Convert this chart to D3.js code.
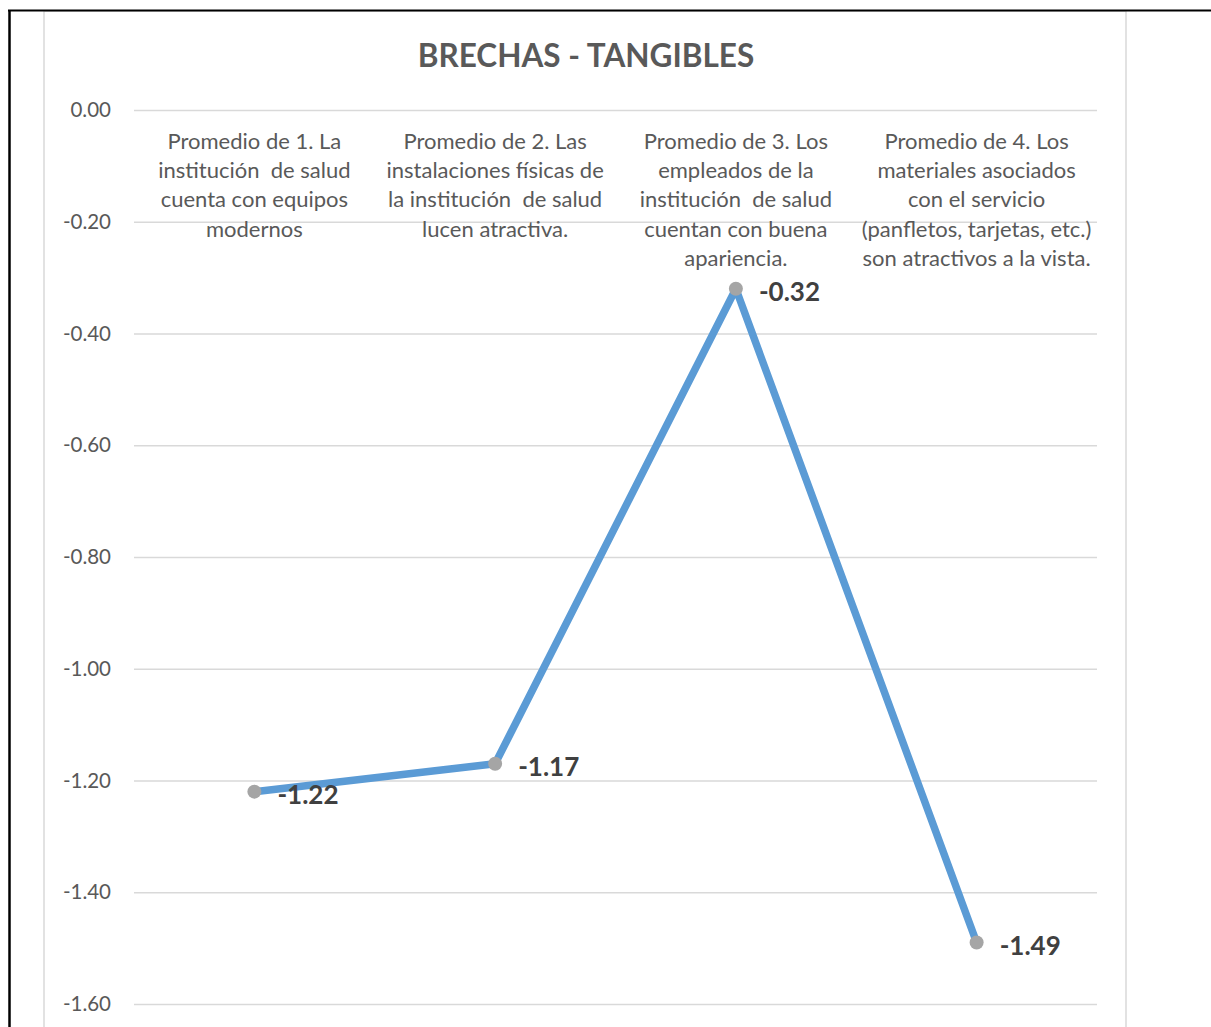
<!DOCTYPE html>
<html>
<head>
<meta charset="utf-8">
<script src="https://cdn.jsdelivr.net/npm/d3@7"></script>
<style>
  html, body { margin: 0; padding: 0; background: #fff; }
  svg { display: block; }
</style>
</head>
<body>
<div id="chart"></div>
<script>
const WIDTH = 1211;
const HEIGHT = 1027;

const TITLE = "BRECHAS - TANGIBLES";
const categories = [
  ["Promedio de 1. La", "institución  de salud", "cuenta con equipos", "modernos"],
  ["Promedio de 2. Las", "instalaciones físicas de", "la institución  de salud", "lucen atractiva."],
  ["Promedio de 3. Los", "empleados de la", "institución  de salud", "cuentan con buena", "apariencia."],
  ["Promedio de 4. Los", "materiales asociados", "con el servicio", "(panfletos, tarjetas, etc.)", "son atractivos a la vista."]
];
const values = [-1.22, -1.17, -0.32, -1.49];
const yTicks = [0, -0.2, -0.4, -0.6, -0.8, -1.0, -1.2, -1.4, -1.6];

const FONT = "Lato, 'Open Sans', sans-serif";
const plot = { left: 134, right: 1097, top: 110, bottom: 1004 };
// excel style: plain hyphen for negatives
const fmt = d => d3.format(".2f")(d).replace("\u2212", "-");

const svg = d3.select("#chart").append("svg")
  .attr("width", WIDTH)
  .attr("height", HEIGHT);

// outer frame + chart area border
svg.append("rect")
  .attr("x", 44).attr("y", 11)
  .attr("width", 1082).attr("height", HEIGHT)
  .attr("fill", "#fff")
  .attr("stroke", "#d9d9d9")
  .attr("stroke-width", 1.5);
svg.append("line")
  .attr("x1", 8).attr("x2", WIDTH).attr("y1", 10.5).attr("y2", 10.5)
  .attr("stroke", "#000").attr("stroke-width", 2);
svg.append("line")
  .attr("x1", 9.5).attr("x2", 9.5).attr("y1", 10).attr("y2", HEIGHT)
  .attr("stroke", "#000").attr("stroke-width", 2.5);

const x = d3.scaleBand()
  .domain(d3.range(values.length))
  .range([plot.left, plot.right]);

const y = d3.scaleLinear()
  .domain([-1.6, 0])
  .range([plot.bottom, plot.top]);

// title
svg.append("text")
  .attr("x", 586).attr("y", 67)
  .attr("text-anchor", "middle")
  .attr("font-family", FONT)
  .attr("font-weight", "bold")
  .attr("font-size", 31.5)
  .attr("fill", "#595959")
  .text(TITLE);

// gridlines + y axis
const yAxis = svg.append("g")
  .attr("transform", `translate(${plot.left},0)`)
  .call(d3.axisLeft(y)
    .tickValues(yTicks)
    .tickSize(-(plot.right - plot.left))
    .tickPadding(23)
    .tickFormat(fmt));
yAxis.select(".domain").remove();
yAxis.selectAll(".tick line")
  .attr("stroke", "#d9d9d9")
  .attr("stroke-width", 1.5);
yAxis.selectAll(".tick text")
  .attr("font-family", FONT)
  .attr("font-size", 20.5)
  .attr("fill", "#595959");

// category labels (below the 0 line)
const cat = svg.append("g");
categories.forEach((lines, i) => {
  const t = cat.append("text")
    .attr("x", x(i) + x.bandwidth() / 2)
    .attr("y", 148.5)
    .attr("text-anchor", "middle")
    .attr("font-family", FONT)
    .attr("font-size", 22)
    .attr("fill", "#595959")
    .attr("xml:space", "preserve");
  lines.forEach((ln, j) => {
    t.append("tspan")
      .attr("x", x(i) + x.bandwidth() / 2)
      .attr("dy", j === 0 ? 0 : 29.4)
      .text(ln);
  });
});

// line
const line = d3.line()
  .x((d, i) => x(i) + x.bandwidth() / 2)
  .y(d => y(d));

svg.append("path")
  .datum(values)
  .attr("d", line)
  .attr("fill", "none")
  .attr("stroke", "#5b9bd5")
  .attr("stroke-width", 7.5)
  .attr("stroke-linejoin", "round");

svg.selectAll("circle.pt")
  .data(values)
  .join("circle")
  .attr("class", "pt")
  .attr("cx", (d, i) => x(i) + x.bandwidth() / 2)
  .attr("cy", d => y(d))
  .attr("r", 7)
  .attr("fill", "#a5a5a5");

// data labels
svg.selectAll("text.lbl")
  .data(values)
  .join("text")
  .attr("class", "lbl")
  .attr("x", (d, i) => x(i) + x.bandwidth() / 2 + 23)
  .attr("y", d => y(d) + 12)
  .attr("font-family", FONT)
  .attr("font-weight", "bold")
  .attr("font-size", 26)
  .attr("fill", "#404040")
  .text(fmt);
</script>
</body>
</html>
